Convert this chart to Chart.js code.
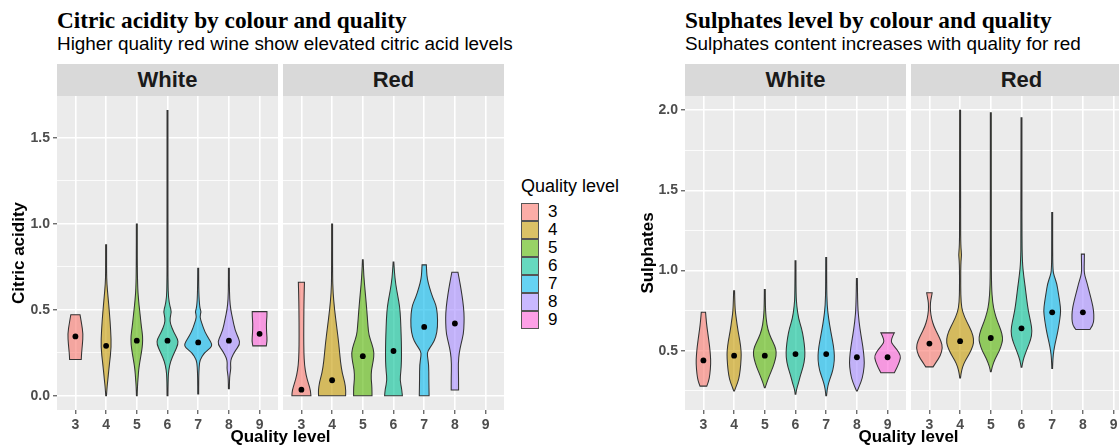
<!DOCTYPE html>
<html lang="en">
  <head>
    <meta charset="UTF-8" />
    <title>Citric acidity and sulphates by colour and quality</title>
    <script src="https://cdn.jsdelivr.net/npm/chart.js"></script>
    <style>
      body {
        margin: 0;
        background: #fff;
        font-family: "Liberation Sans", Arial, sans-serif;
      }
      #page {
        position: relative;
        width: 1119px;
        height: 446px;
        overflow: hidden;
        background: #fff;
      }
      .abs {
        position: absolute;
        white-space: nowrap;
      }
      .title {
        font-family: "Liberation Serif", "Times New Roman", serif;
        font-weight: bold;
        font-size: 23.3px;
        line-height: 23px;
        color: #000;
      }
      .subtitle {
        font-size: 18.9px;
        line-height: 19px;
        color: #000;
      }
      .strip {
        top: 64px;
        height: 32px;
        line-height: 32px;
        background: #d9d9d9;
        text-align: center;
        font-weight: bold;
        font-size: 22px;
        color: #1a1a1a;
      }
      .xtitle {
        top: 428px;
        font-weight: bold;
        font-size: 17px;
        line-height: 18px;
        text-align: center;
        color: #000;
      }
      .legend-title {
        font-size: 18px;
        line-height: 18px;
      }
      .key {
        width: 16px;
        height: 16px;
        border: 1px solid #555;
      }
      .key-label {
        font-size: 17px;
        line-height: 18px;
      }
    </style>
  </head>
  <body>
    <div id="page">
      <div class="abs title" style="left: 57px; top: 9px">Citric acidity by colour and quality</div>
      <div class="abs subtitle" style="left: 57px; top: 34px">Higher quality red wine show elevated citric acid levels</div>
      <div class="abs strip" style="left: 57px; width: 221px">White</div>
      <div class="abs strip" style="left: 283px; width: 221px">Red</div>

      <div class="abs title" style="left: 685px; top: 9px">Sulphates level by colour and quality</div>
      <div class="abs subtitle" style="left: 685px; top: 34px">Sulphates content increases with quality for red</div>
      <div class="abs strip" style="left: 685px; width: 221px">White</div>
      <div class="abs strip" style="left: 911px; width: 221px">Red</div>

      <div class="abs" style="left: 0; top: 96px"><canvas id="citricWhite" width="278" height="350"></canvas></div>
      <div class="abs" style="left: 283px; top: 96px"><canvas id="citricRed" width="221" height="350"></canvas></div>
      <div class="abs" style="left: 630px; top: 96px"><canvas id="sulphWhite" width="276" height="350"></canvas></div>
      <div class="abs" style="left: 911px; top: 96px"><canvas id="sulphRed" width="221" height="350"></canvas></div>

      <div class="abs xtitle" style="left: 57px; width: 447px">Quality level</div>
      <div class="abs xtitle" style="left: 685px; width: 447px">Quality level</div>

      <div class="abs legend-title" style="left: 521px; top: 177px">Quality level</div>
      <div id="legend"></div>
    </div>

    <script>
      const qualityLevels = [3, 4, 5, 6, 7, 8, 9];
      const qualityColours = ["#F8766D", "#C49A00", "#53B400", "#00C094", "#00B6EB", "#A58AFF", "#FB61D7"];

      const citricTicks = [0, 0.5, 1.0, 1.5];
      const citricMinor = [0.25, 0.75, 1.25];
      const sulphTicks = [0.5, 1.0, 1.5, 2.0];
      const sulphMinor = [0.25, 0.75, 1.25, 1.75];

      // medians (the black dots), one per quality level present
      const citricWhiteMedians = [0.345, 0.29, 0.32, 0.32, 0.31, 0.32, 0.36];
      const citricRedMedians = [0.035, 0.09, 0.23, 0.26, 0.4, 0.42];
      const sulphWhiteMedians = [0.44, 0.47, 0.47, 0.48, 0.48, 0.46, 0.46];
      const sulphRedMedians = [0.545, 0.56, 0.58, 0.64, 0.74, 0.74];

      // violin outlines: [value, half width in quality units], bottom to top
      const citricWhiteShapes = [
        [[0.211, 0.19], [0.25, 0.2], [0.3, 0.23], [0.36, 0.25], [0.42, 0.2], [0.471, 0.15]],
        [[0, 0.012], [0.05, 0.03], [0.09, 0.055], [0.19, 0.11], [0.28, 0.17], [0.38, 0.15], [0.48, 0.11], [0.57, 0.065], [0.65, 0.025], [0.72, 0.015], [0.878, 0.015]],
        [[0, 0.012], [0.05, 0.02], [0.1, 0.04], [0.15, 0.06], [0.2, 0.1], [0.25, 0.15], [0.3, 0.19], [0.35, 0.19], [0.4, 0.15], [0.45, 0.12], [0.5, 0.09], [0.55, 0.06], [0.62, 0.03], [0.75, 0.015], [0.998, 0.015]],
        [[0, 0.015], [0.1, 0.02], [0.15, 0.04], [0.2, 0.1], [0.25, 0.22], [0.3, 0.35], [0.33, 0.33], [0.37, 0.2], [0.42, 0.09], [0.45, 0.08], [0.49, 0.13], [0.52, 0.08], [0.57, 0.03], [0.65, 0.018], [0.8, 0.015], [1.658, 0.015]],
        [[0.01, 0.015], [0.1, 0.016], [0.17, 0.03], [0.21, 0.06], [0.25, 0.2], [0.28, 0.42], [0.3, 0.45], [0.33, 0.35], [0.37, 0.22], [0.42, 0.12], [0.46, 0.05], [0.49, 0.1], [0.51, 0.05], [0.6, 0.018], [0.741, 0.015]],
        [[0.04, 0.015], [0.1, 0.02], [0.13, 0.04], [0.16, 0.065], [0.19, 0.05], [0.22, 0.08], [0.26, 0.2], [0.3, 0.36], [0.33, 0.33], [0.38, 0.2], [0.45, 0.12], [0.5, 0.06], [0.56, 0.025], [0.65, 0.015], [0.741, 0.015]],
        [[0.29, 0.22], [0.32, 0.25], [0.36, 0.23], [0.42, 0.22], [0.46, 0.24], [0.489, 0.24]],
      ];
      const citricRedShapes = [
        [[0, 0.31], [0.03, 0.3], [0.07, 0.23], [0.12, 0.15], [0.18, 0.1], [0.25, 0.08], [0.35, 0.075], [0.5, 0.08], [0.6, 0.09], [0.66, 0.1]],
        [[0, 0.44], [0.03, 0.45], [0.08, 0.41], [0.13, 0.33], [0.2, 0.27], [0.3, 0.22], [0.4, 0.15], [0.5, 0.08], [0.6, 0.03], [0.7, 0.015], [0.998, 0.015]],
        [[0, 0.3], [0.05, 0.3], [0.1, 0.27], [0.15, 0.28], [0.2, 0.34], [0.25, 0.37], [0.3, 0.3], [0.35, 0.2], [0.4, 0.17], [0.5, 0.13], [0.6, 0.08], [0.7, 0.03], [0.79, 0.012]],
        [[0, 0.29], [0.04, 0.27], [0.09, 0.21], [0.14, 0.24], [0.2, 0.26], [0.28, 0.26], [0.35, 0.25], [0.45, 0.23], [0.52, 0.2], [0.58, 0.14], [0.65, 0.07], [0.72, 0.03], [0.778, 0.012]],
        [[0, 0.16], [0.1, 0.15], [0.18, 0.15], [0.235, 0.1], [0.26, 0.11], [0.3, 0.27], [0.34, 0.38], [0.4, 0.44], [0.48, 0.43], [0.53, 0.38], [0.57, 0.28], [0.63, 0.17], [0.68, 0.1], [0.72, 0.08], [0.761, 0.07]],
        [[0.033, 0.12], [0.1, 0.12], [0.19, 0.11], [0.25, 0.14], [0.3, 0.2], [0.36, 0.28], [0.42, 0.3], [0.48, 0.3], [0.55, 0.26], [0.62, 0.2], [0.68, 0.14], [0.718, 0.1]],
      ];
      const sulphWhiteShapes = [
        [[0.28, 0.11], [0.31, 0.17], [0.35, 0.21], [0.42, 0.24], [0.47, 0.23], [0.53, 0.2], [0.6, 0.15], [0.67, 0.1], [0.741, 0.07]],
        [[0.25, 0.012], [0.28, 0.07], [0.32, 0.15], [0.38, 0.2], [0.45, 0.23], [0.5, 0.23], [0.56, 0.19], [0.62, 0.13], [0.7, 0.07], [0.76, 0.03], [0.874, 0.015]],
        [[0.27, 0.012], [0.3, 0.06], [0.35, 0.16], [0.4, 0.27], [0.45, 0.35], [0.49, 0.38], [0.53, 0.33], [0.58, 0.2], [0.63, 0.1], [0.7, 0.04], [0.78, 0.018], [0.883, 0.015]],
        [[0.23, 0.012], [0.26, 0.03], [0.3, 0.1], [0.34, 0.15], [0.4, 0.25], [0.46, 0.31], [0.52, 0.3], [0.58, 0.26], [0.64, 0.2], [0.7, 0.1], [0.78, 0.04], [0.85, 0.018], [1.061, 0.015]],
        [[0.22, 0.012], [0.26, 0.03], [0.3, 0.08], [0.34, 0.15], [0.38, 0.22], [0.44, 0.27], [0.5, 0.26], [0.56, 0.21], [0.63, 0.14], [0.7, 0.08], [0.78, 0.03], [0.9, 0.016], [1.082, 0.015]],
        [[0.25, 0.012], [0.28, 0.08], [0.33, 0.18], [0.4, 0.24], [0.45, 0.24], [0.52, 0.2], [0.6, 0.13], [0.68, 0.07], [0.78, 0.025], [0.951, 0.015]],
        [[0.363, 0.22], [0.4, 0.32], [0.44, 0.4], [0.47, 0.43], [0.51, 0.3], [0.54, 0.16], [0.56, 0.11], [0.59, 0.16], [0.612, 0.22]],
      ];
      const sulphRedShapes = [
        [[0.4, 0.12], [0.43, 0.22], [0.47, 0.36], [0.52, 0.43], [0.56, 0.38], [0.6, 0.28], [0.65, 0.15], [0.7, 0.07], [0.75, 0.03], [0.8, 0.03], [0.83, 0.06], [0.862, 0.09]],
        [[0.33, 0.012], [0.36, 0.03], [0.4, 0.08], [0.44, 0.17], [0.48, 0.3], [0.53, 0.42], [0.57, 0.45], [0.62, 0.38], [0.68, 0.22], [0.74, 0.08], [0.8, 0.03], [0.9, 0.018], [1.05, 0.022], [1.1, 0.05], [1.15, 0.022], [1.3, 0.015], [2.0, 0.015]],
        [[0.37, 0.012], [0.4, 0.04], [0.45, 0.14], [0.5, 0.28], [0.55, 0.37], [0.58, 0.39], [0.63, 0.33], [0.68, 0.22], [0.74, 0.12], [0.8, 0.06], [0.9, 0.022], [1.1, 0.016], [1.3, 0.015], [1.984, 0.015]],
        [[0.397, 0.012], [0.42, 0.03], [0.46, 0.08], [0.52, 0.2], [0.57, 0.3], [0.62, 0.35], [0.68, 0.3], [0.75, 0.22], [0.82, 0.17], [0.9, 0.12], [0.97, 0.07], [1.05, 0.028], [1.2, 0.015], [1.953, 0.015]],
        [[0.39, 0.012], [0.45, 0.022], [0.5, 0.05], [0.55, 0.1], [0.6, 0.16], [0.65, 0.21], [0.7, 0.25], [0.75, 0.28], [0.8, 0.25], [0.86, 0.2], [0.92, 0.15], [0.97, 0.06], [1.0, 0.025], [1.1, 0.015], [1.363, 0.015]],
        [[0.633, 0.23], [0.66, 0.33], [0.7, 0.36], [0.75, 0.35], [0.8, 0.3], [0.86, 0.22], [0.92, 0.14], [0.97, 0.06], [1.0, 0.04], [1.05, 0.045], [1.103, 0.05]],
      ];

      const tickFont = { family: "Liberation Sans", size: 14, weight: "bold" };

      function withAlpha(hex, a) {
        const n = parseInt(hex.slice(1), 16);
        return `rgba(${(n >> 16) & 255}, ${(n >> 8) & 255}, ${n & 255}, ${a})`;
      }

      // draws one side of the outline with rounded joins through the points
      function smoothSide(ctx, pts, first) {
        if (first) ctx.moveTo(pts[0][0], pts[0][1]);
        else ctx.lineTo(pts[0][0], pts[0][1]);
        for (let i = 1; i < pts.length - 1; i++) {
          const mx = (pts[i][0] + pts[i + 1][0]) / 2;
          const my = (pts[i][1] + pts[i + 1][1]) / 2;
          ctx.quadraticCurveTo(pts[i][0], pts[i][1], mx, my);
        }
        const last = pts[pts.length - 1];
        ctx.lineTo(last[0], last[1]);
      }

      const panelPlugin = {
        id: "panel",
        beforeDraw(chart) {
          const { ctx, chartArea: a } = chart;
          ctx.save();
          ctx.fillStyle = "#EBEBEB";
          ctx.fillRect(a.left, a.top, a.right - a.left, a.bottom - a.top);
          ctx.restore();
        },
        beforeDatasetsDraw(chart) {
          const shapes = chart.options.plugins.panel.shapes;
          const { ctx, chartArea: a } = chart;
          const xs = chart.scales.x;
          const ys = chart.scales.y;
          ctx.save();
          ctx.beginPath();
          ctx.rect(a.left, a.top, a.right - a.left, a.bottom - a.top);
          ctx.clip();
          shapes.forEach((shape, i) => {
            const q = qualityLevels[i];
            const right = shape.map(([v, w]) => [xs.getPixelForValue(q + w), ys.getPixelForValue(v)]);
            const left = shape.map(([v, w]) => [xs.getPixelForValue(q - w), ys.getPixelForValue(v)]).reverse();
            ctx.beginPath();
            smoothSide(ctx, right, true);
            smoothSide(ctx, left, false);
            ctx.closePath();
            ctx.fillStyle = withAlpha(qualityColours[i], 0.6);
            ctx.fill();
            ctx.lineWidth = 1.05;
            ctx.strokeStyle = "#333333";
            ctx.stroke();
          });
          ctx.restore();
        },
      };

      function makePanel(id, shapes, medians, yMin, yMax, majors, minors, yTitle, yWidth, titlePad) {
        const allY = majors.concat(minors).sort((a, b) => a - b);
        const showY = yTitle !== "";
        new Chart(document.getElementById(id), {
          type: "scatter",
          data: {
            datasets: [
              {
                data: medians.map((m, i) => ({ x: qualityLevels[i], y: m })),
                backgroundColor: "#000",
                borderColor: "#000",
                pointRadius: 2.9,
                pointBorderWidth: 0,
              },
            ],
          },
          plugins: [panelPlugin],
          options: {
            responsive: false,
            animation: false,
            devicePixelRatio: 1,
            layout: { padding: 0, autoPadding: false },
            plugins: {
              legend: { display: false },
              tooltip: { enabled: false },
              panel: { shapes: shapes },
            },
            scales: {
              x: {
                type: "linear",
                min: 2.4,
                max: 9.6,
                afterBuildTicks: (s) => {
                  s.ticks = qualityLevels.map((v) => ({ value: v }));
                },
                afterFit: (s) => {
                  s.height = 36;
                  s.paddingLeft = 0;
                  s.paddingRight = 0;
                },
                border: { display: false },
                grid: {
                  color: "#ffffff",
                  lineWidth: 1.6,
                  tickLength: 4,
                  tickColor: "#333333",
                  tickWidth: 1,
                },
                ticks: {
                  font: tickFont,
                  color: "#4D4D4D",
                  padding: 3,
                  maxRotation: 0,
                  callback: (v) => String(v),
                },
              },
              y: {
                type: "linear",
                min: yMin,
                max: yMax,
                afterBuildTicks: (s) => {
                  s.ticks = allY.map((v) => ({ value: v }));
                },
                afterFit: (s) => {
                  s.width = yWidth;
                  s.paddingTop = 0;
                  s.paddingBottom = 0;
                },
                border: { display: false },
                grid: {
                  color: "#ffffff",
                  lineWidth: (c) => (majors.includes(c.tick.value) ? 1.6 : 0.8),
                  drawTicks: showY,
                  tickLength: 4,
                  tickWidth: 1,
                  tickColor: (c) => (majors.includes(c.tick.value) ? "#333333" : "rgba(0,0,0,0)"),
                },
                ticks: {
                  display: showY,
                  font: tickFont,
                  color: "#4D4D4D",
                  padding: 3,
                  autoSkip: false,
                  callback: (v) => (majors.includes(v) ? v.toFixed(1) : ""),
                },
                title: {
                  display: showY,
                  text: yTitle,
                  color: "#000",
                  font: { family: "Liberation Sans", size: 17, weight: "bold" },
                  padding: { top: titlePad, bottom: 0 },
                },
              },
            },
          },
        });
      }

      makePanel("citricWhite", citricWhiteShapes, citricWhiteMedians, -0.083, 1.743, citricTicks, citricMinor, "Citric acidity", 57, 9);
      makePanel("citricRed", citricRedShapes, citricRedMedians, -0.083, 1.743, citricTicks, citricMinor, "", 0, 0);
      makePanel("sulphWhite", sulphWhiteShapes, sulphWhiteMedians, 0.131, 2.089, sulphTicks, sulphMinor, "Sulphates", 55, 8);
      makePanel("sulphRed", sulphRedShapes, sulphRedMedians, 0.131, 2.089, sulphTicks, sulphMinor, "", 0, 0);

      // legend keys
      const legend = document.getElementById("legend");
      qualityLevels.forEach((q, i) => {
        const key = document.createElement("div");
        key.className = "abs key";
        key.style.left = "521px";
        key.style.top = 203 + i * 18 + "px";
        key.style.background = withAlpha(qualityColours[i], 0.6);
        legend.appendChild(key);
        const label = document.createElement("div");
        label.className = "abs key-label";
        label.style.left = "548px";
        label.style.top = 203 + i * 18 + "px";
        label.textContent = q;
        legend.appendChild(label);
      });
    </script>
  </body>
</html>
